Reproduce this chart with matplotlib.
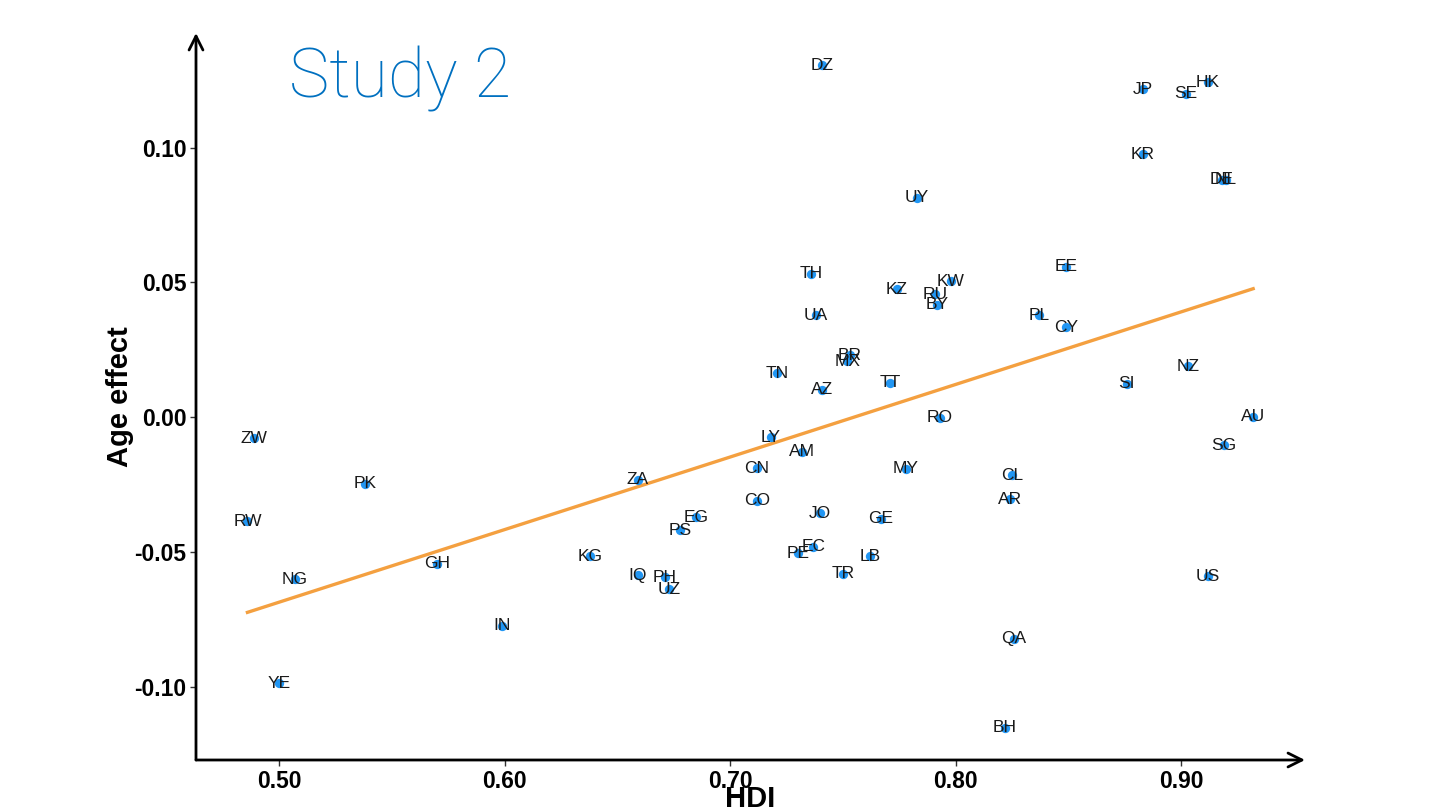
import numpy as np
import matplotlib
matplotlib.use("Agg")
import matplotlib.pyplot as plt

countries = ["DZ","JP","SE","HK","KR","DE","NL","UY","TH","EE","KW","KZ","RU","BY",
             "PL","CY","UA","BR","MX","TN","NZ","TT","SI","AZ","RO","AU","ZW","LY",
             "SG","AM","CN","MY","CL","PK","ZA","AR","CO","JO","EG","GE","RW","PS",
             "EC","PE","LB","KG","GH","IQ","US","PH","TR","NG","UZ","IN","QA","YE","BH"]
hdi = [0.741,0.883,0.902,0.912,0.883,0.918,0.920,0.783,0.736,0.849,0.798,0.774,0.791,0.792,
       0.837,0.849,0.738,0.753,0.752,0.721,0.903,0.771,0.876,0.741,0.793,0.932,0.489,0.718,
       0.919,0.732,0.712,0.778,0.825,0.538,0.659,0.824,0.712,0.740,0.685,0.767,0.486,0.678,
       0.737,0.730,0.762,0.638,0.570,0.659,0.912,0.671,0.750,0.507,0.673,0.599,0.826,0.500,0.822]
age_effect = [0.1306,0.1217,0.1199,0.1243,0.0976,0.0880,0.0880,0.0813,0.0531,0.0557,0.0505,0.0475,0.0456,0.0416,
              0.0378,0.0334,0.0378,0.0230,0.0208,0.0163,0.0189,0.0127,0.0123,0.0101,-0.0003,0.0001,-0.0078,-0.0074,
              -0.0104,-0.0129,-0.0189,-0.0192,-0.0215,-0.0248,-0.0233,-0.0304,-0.0311,-0.0356,-0.0371,-0.0378,-0.0386,-0.0419,
              -0.0482,-0.0505,-0.0516,-0.0516,-0.0545,-0.0586,-0.0590,-0.0594,-0.0582,-0.0601,-0.0638,-0.0775,-0.0823,-0.0987,-0.1153]
x_ticks = [0.50, 0.60, 0.70, 0.80, 0.90]
y_ticks = [-0.10, -0.05, 0.00, 0.05, 0.10]

plt.rcParams['font.family'] = ['Liberation Sans', 'DejaVu Sans']

fig = plt.figure(figsize=(14.5, 8.1), dpi=100)
ax = fig.add_axes([196/1450, 50/810, (1305-196)/1450, (760-33)/810])

x = np.array(hdi)
y = np.array(age_effect)

ax.scatter(x, y, s=45, color='#2196F3', zorder=3, linewidths=0)
for c, xi, yi in zip(countries, x, y):
    ax.text(xi, yi, c, ha='center', va='center', fontsize=12.5, color='#1a1a1a', zorder=4)

slope, intercept = np.polyfit(x, y, 1)
xs = np.array([x.min(), x.max()])
ax.plot(xs, intercept + slope * xs, color='#F4A040', lw=2.4, zorder=2)

ax.set_xlim(0.5 + (196 - 279) / 2255, 0.5 + (1305 - 279) / 2255)
ax.set_ylim(0.10 - (760 - 147.6) / 2695, 0.10 + (147.6 - 33) / 2695)

for s in ax.spines.values():
    s.set_visible(False)
ax.annotate('', xy=(1, 0), xytext=(0, 0), xycoords='axes fraction',
            arrowprops=dict(arrowstyle='->,head_length=1.0,head_width=0.5', lw=2, color='black',
                            shrinkA=0, shrinkB=0))
ax.annotate('', xy=(0, 1), xytext=(0, 0), xycoords='axes fraction',
            arrowprops=dict(arrowstyle='->,head_length=1.0,head_width=0.5', lw=2, color='black',
                            shrinkA=0, shrinkB=0))

ax.set_xticks(x_ticks)
ax.set_xticklabels([f"{v:.2f}" for v in x_ticks], fontsize=16.5, fontweight='bold')
ax.set_yticks(y_ticks)
ax.set_yticklabels([f"{v:.2f}" for v in y_ticks], fontsize=16.5, fontweight='bold')
ax.tick_params(length=4, width=1, color='#333333', pad=3)

ax.set_ylabel('Age effect', fontsize=21, fontweight='bold', labelpad=0)
fig.text(750/1450, 1 - 799/810, 'HDI', ha='center', va='center', fontsize=21, fontweight='bold')

fig.text(289/1450, 1 - 97/810, 'Study 2', fontsize=49, color='#0070C0', fontweight='light',
         family=['Roboto', 'DejaVu Sans'], ha='left', va='baseline')

fig.savefig('out.png', dpi=100)
